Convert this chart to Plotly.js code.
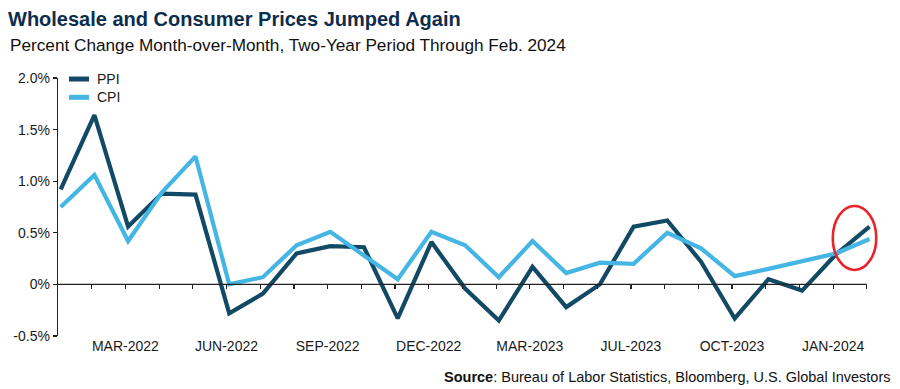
<!DOCTYPE html>
<html>
<head>
<meta charset="utf-8">
<script src="https://cdn.plot.ly/plotly-3.0.1.min.js"></script>
<style>html,body{margin:0;padding:0;background:#fff;}#chart{width:900px;height:389px;}</style>
</head>
<body>
<div id="chart"></div>
<script>
// Monthly points (index 0 .. 24), two-year period through Feb. 2024
const monthIndex = [0,1,2,3,4,5,6,7,8,9,10,11,12,13,14,15,16,17,18,19,20,21,22,23,24];
const ppi = [0.92,1.64,0.56,0.88,0.87,-0.28,-0.09,0.30,0.37,0.36,-0.33,0.41,-0.04,-0.35,0.17,-0.22,0.00,0.56,0.62,0.22,-0.33,0.05,-0.06,0.29,0.56];
const cpi = [0.75,1.06,0.42,0.89,1.24,0.00,0.07,0.38,0.51,0.28,0.05,0.51,0.38,0.07,0.42,0.11,0.21,0.20,0.50,0.35,0.08,0.15,0.23,0.30,0.44];
const xTickIndex = [2,5,8,11,14,17,20,23];
const xTickLabels = ['MAR-2022','JUN-2022','SEP-2022','DEC-2022','MAR-2023','JUL-2023','OCT-2023','JAN-2024'];
const yTickVals = [-0.5,0,0.5,1.0,1.5,2.0];
const yTickLabels = ['-0.5%','0%','0.5%','1.0%','1.5%','2.0%'];

const PPI_COLOR = '#124a66';
const CPI_COLOR = '#45b5e4';
const FONT = 'Liberation Sans, Arial, sans-serif';
const OFF = 0.08; // ticks sit slightly left of the data points
const xRange = [-OFF, 24.4];
const yRange = [-0.5, 2.0];

const traces = [
  {x: monthIndex, y: ppi, type: 'scatter', mode: 'lines', name: 'PPI',
   line: {color: PPI_COLOR, width: 4.2}, xaxis: 'x', yaxis: 'y', hoverinfo: 'skip'},
  {x: monthIndex, y: cpi, type: 'scatter', mode: 'lines', name: 'CPI',
   line: {color: CPI_COLOR, width: 4.2}, xaxis: 'x2', yaxis: 'y', hoverinfo: 'skip'}
];

const zeroPos = (0 - yRange[0]) / (yRange[1] - yRange[0]);
const allTicks = monthIndex.slice(1).map(i => i - OFF);

const layout = {
  width: 900, height: 389,
  margin: {l: 58, r: 17, t: 78, b: 53},
  paper_bgcolor: '#ffffff', plot_bgcolor: '#ffffff',
  showlegend: false,
  font: {family: FONT, size: 14, color: '#1a1a1a'},
  title: {
    text: '<b>Wholesale and Consumer Prices Jumped Again</b>',
    x: 8/900, xanchor: 'left', xref: 'container',
    y: 1 - 19/389, yanchor: 'middle', yref: 'container',
    font: {family: FONT, size: 20, color: '#0d2d4c'}
  },
  xaxis: {
    range: xRange, showgrid: false, zeroline: false, showline: false,
    tickmode: 'array', tickvals: xTickIndex.map(i => i - OFF), ticktext: xTickLabels,
    ticks: '', tickfont: {family: FONT, size: 14, color: '#1a1a1a'}, fixedrange: true
  },
  xaxis2: {
    range: xRange, overlaying: 'x', anchor: 'free', position: zeroPos,
    showgrid: false, zeroline: false, showline: false,
    tickmode: 'array', tickvals: allTicks, ticks: 'outside', ticklen: 4,
    tickwidth: 1.2, tickcolor: '#222', showticklabels: false, fixedrange: true
  },
  yaxis: {
    range: yRange, showgrid: false, zeroline: false,
    showline: true, linecolor: '#222', linewidth: 1.3,
    tickmode: 'array', tickvals: yTickVals, ticktext: yTickLabels,
    ticks: 'outside', ticklen: 4, tickwidth: 1.2, tickcolor: '#222',
    tickfont: {family: FONT, size: 14, color: '#1a1a1a'}, fixedrange: true
  },
  shapes: [
    {type: 'line', xref: 'x', yref: 'y', x0: -OFF, x1: 24 - OFF, y0: 0, y1: 0,
     line: {color: '#222', width: 1.3}},
    {type: 'circle', xref: 'x', yref: 'y', x0: 22.91, x1: 24.2, y0: 0.14, y1: 0.76,
     line: {color: '#e8232a', width: 2.6}},
    {type: 'line', xref: 'paper', yref: 'paper', x0: 0.0133, x1: 0.0376, y0: 0.996, y1: 0.996,
     line: {color: PPI_COLOR, width: 5}},
    {type: 'line', xref: 'paper', yref: 'paper', x0: 0.0133, x1: 0.0376, y0: 0.925, y1: 0.925,
     line: {color: CPI_COLOR, width: 5}}
  ],
  annotations: [
    {text: 'Percent Change Month-over-Month, Two-Year Period Through Feb. 2024',
     xref: 'paper', yref: 'paper', x: (8-58)/825, y: (336-45)/258, xanchor: 'left', yanchor: 'middle',
     showarrow: false, font: {family: FONT, size: 17.2, color: '#111'}},
    {text: '<b>Source</b>: Bureau of Labor Statistics, Bloomberg, U.S. Global Investors',
     xref: 'paper', yref: 'paper', x: (893-58)/825, y: (336-377)/258, xanchor: 'right', yanchor: 'middle',
     showarrow: false, font: {family: FONT, size: 14.5, color: '#111'}},
    {text: 'PPI', xref: 'paper', yref: 'paper', x: (95-58)/825, y: 0.996, xanchor: 'left', yanchor: 'middle',
     showarrow: false, font: {family: FONT, size: 14, color: '#1a1a1a'}},
    {text: 'CPI', xref: 'paper', yref: 'paper', x: (95-58)/825, y: 0.925, xanchor: 'left', yanchor: 'middle',
     showarrow: false, font: {family: FONT, size: 14, color: '#1a1a1a'}}
  ]
};

Plotly.newPlot('chart', traces, layout, {displayModeBar: false, staticPlot: true});
</script>
</body>
</html>
